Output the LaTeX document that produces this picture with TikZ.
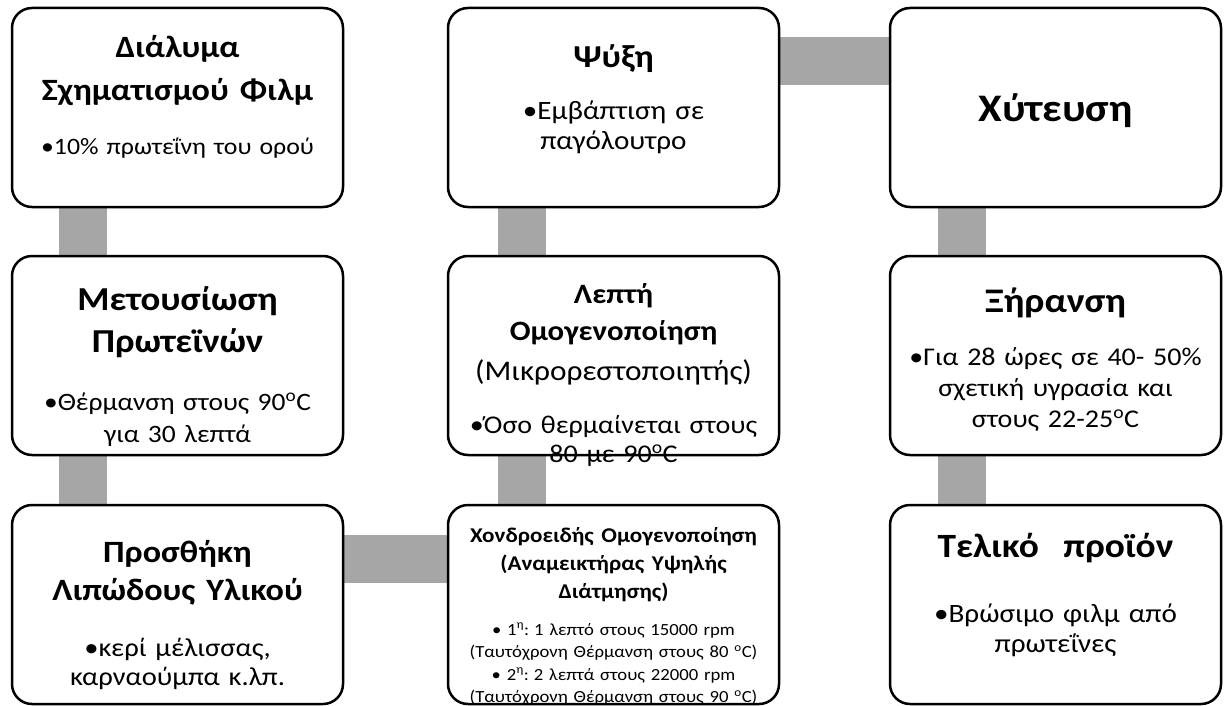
\documentclass[tikz,border=0pt]{standalone}
\usepackage{fontspec}
\setmainfont{Carlito}[FakeStretch=1.1]
\usetikzlibrary{positioning, backgrounds}
\definecolor{barGray}{HTML}{A6A6A6}
\newcommand\hdsize[2]{\bfseries\fontsize{#1}{#2}\selectfont\spaceskip=0.36em\relax}
\newcommand\blsize[2]{\mdseries\fontsize{#1}{#2}\selectfont\spaceskip=0.34em\relax}

\begin{document}
\begin{tikzpicture}[x=1pt,y=1pt,
    stage/.style={rectangle,rounded corners=20pt,draw=black,line width=2.5pt,fill=white,
      minimum width=331pt,minimum height=199pt,inner sep=0pt,outer sep=0pt},
    txt/.style={align=center,text width=330pt,inner sep=0pt,anchor=north,
      execute at begin node=\parindent0pt},
    bar/.style={draw=barGray,line width=48pt}
  ]
  \useasboundingbox (0,0) rectangle (1225,-706);
  % stages
  \node[stage] (dialyma) at (177.5,-107.5) {};
  \node[stage] (metousiosi) [below=49pt of dialyma] {};
  \node[stage] (prosthiki) [below=50pt of metousiosi] {};
  \node[stage] (psyxi) [right=105pt of dialyma] {};
  \node[stage] (lepti) [below=49pt of psyxi] {};
  \node[stage] (xondro) [below=50pt of lepti] {};
  \node[stage] (xyteusi) [right=111pt of psyxi] {};
  \node[stage] (xiransi) [below=49pt of xyteusi] {};
  \node[stage] (teliko) [below=50pt of xiransi] {};

  % connectors
  \begin{pgfonlayer}{background}
    \draw[bar] ([xshift=-95pt]dialyma.south) -- ([xshift=-95pt]metousiosi.north);
    \draw[bar] ([xshift=-95pt]metousiosi.south) -- ([xshift=-95pt]prosthiki.north);
    \draw[bar] ([yshift=46pt]prosthiki.east) -- ([yshift=46pt]xondro.west);
    \draw[bar] ([xshift=-92pt]xondro.north) -- ([xshift=-92pt]lepti.south);
    \draw[bar] ([xshift=-92pt]lepti.north) -- ([xshift=-92pt]psyxi.south);
    \draw[bar] ([yshift=46pt]psyxi.east) -- ([yshift=46pt]xyteusi.west);
    \draw[bar] ([xshift=-94pt]xyteusi.south) -- ([xshift=-94pt]xiransi.north);
    \draw[bar] ([xshift=-94pt]xiransi.south) -- ([xshift=-94pt]teliko.north);
  \end{pgfonlayer}

  % texts
  \node[txt] (dialymatxt) at ([yshift=-18.9pt]dialyma.north)
    {\hdsize{31}{43}\strut Διάλυμα\\Σχηματισμού Φιλμ\par\vspace{24pt}
     \blsize{23.5}{30}•10\% πρωτεΐνη του ορού\par};
  \node[txt] (metousiositxt) at ([yshift=-24.6pt]metousiosi.north)
    {\hdsize{33.5}{42}\strut Μετουσίωση\\Πρωτεϊνών\par\vspace{26pt}
     \blsize{25}{32}•Θέρμανση στους 90\textsuperscript{o}C\\για 30 λεπτά\par};
  \node[txt] (prosthikitxt) at ([yshift=-30.4pt]prosthiki.north)
    {\hdsize{31}{38}\strut Προσθήκη\\Λιπώδους Υλικού\par\vspace{27pt}
     \blsize{26}{29}•κερί μέλισσας,\\καρναούμπα κ.λπ.\par};
  \node[txt] (psyxitxt) at ([yshift=-31pt]psyxi.north)
    {\hdsize{32}{40}\strut Ψύξη\par\vspace{21pt}
     \blsize{26.5}{30}•Εμβάπτιση σε\\παγόλουτρο\par};
  \node[txt] (leptitxt) at ([yshift=-21.1pt]lepti.north)
    {\hdsize{28}{37}\strut Λεπτή\\Ομογενοποίηση\par
     \blsize{28.5}{40}(Μικρορεστοποιητής)\par\vspace{24pt}
     \blsize{25.5}{29}•Όσο θερμαίνεται στους\\80 με 90\textsuperscript{o}C\par};
  \node[txt] (xondrotxt) at ([yshift=-17.4pt]xondro.north)
    {\hdsize{21}{28}\strut Χονδροειδής Ομογενοποίηση\\(Αναμεικτήρας Υψηλής\\Διάτμησης)\par\vspace{14.5pt}
     \blsize{17}{22.5}• 1\textsuperscript{η}: 1 λεπτό στους 15000 rpm\\
     (Ταυτόχρονη Θέρμανση στους 80 \textsuperscript{o}C)\\
     • 2\textsuperscript{η}: 2 λεπτά στους 22000 rpm\\
     (Ταυτόχρονη Θέρμανση στους 90 \textsuperscript{o}C)\par};
  \node[txt] (xyteusitxt) at ([yshift=-81.5pt]xyteusi.north)
    {\hdsize{39}{45}\strut Χύτευση\par};
  \node[txt] (xiransitxt) at ([yshift=-26.6pt]xiransi.north)
    {\hdsize{34.5}{42}\strut Ξήρανση\par\vspace{22pt}
     \blsize{25.5}{31}•Για 28 ώρες σε 40- 50\%\\σχετική υγρασία και\\στους 22-25\textsuperscript{o}C\par};
  \node[txt] (telikotxt) at ([yshift=-22.6pt]teliko.north)
    {\hdsize{34}{42}\strut Τελικό\ \ προϊόν\par\vspace{33pt}
     \blsize{26.5}{30}•Βρώσιμο φιλμ από\\πρωτεΐνες\par};
\end{tikzpicture}
\end{document}
